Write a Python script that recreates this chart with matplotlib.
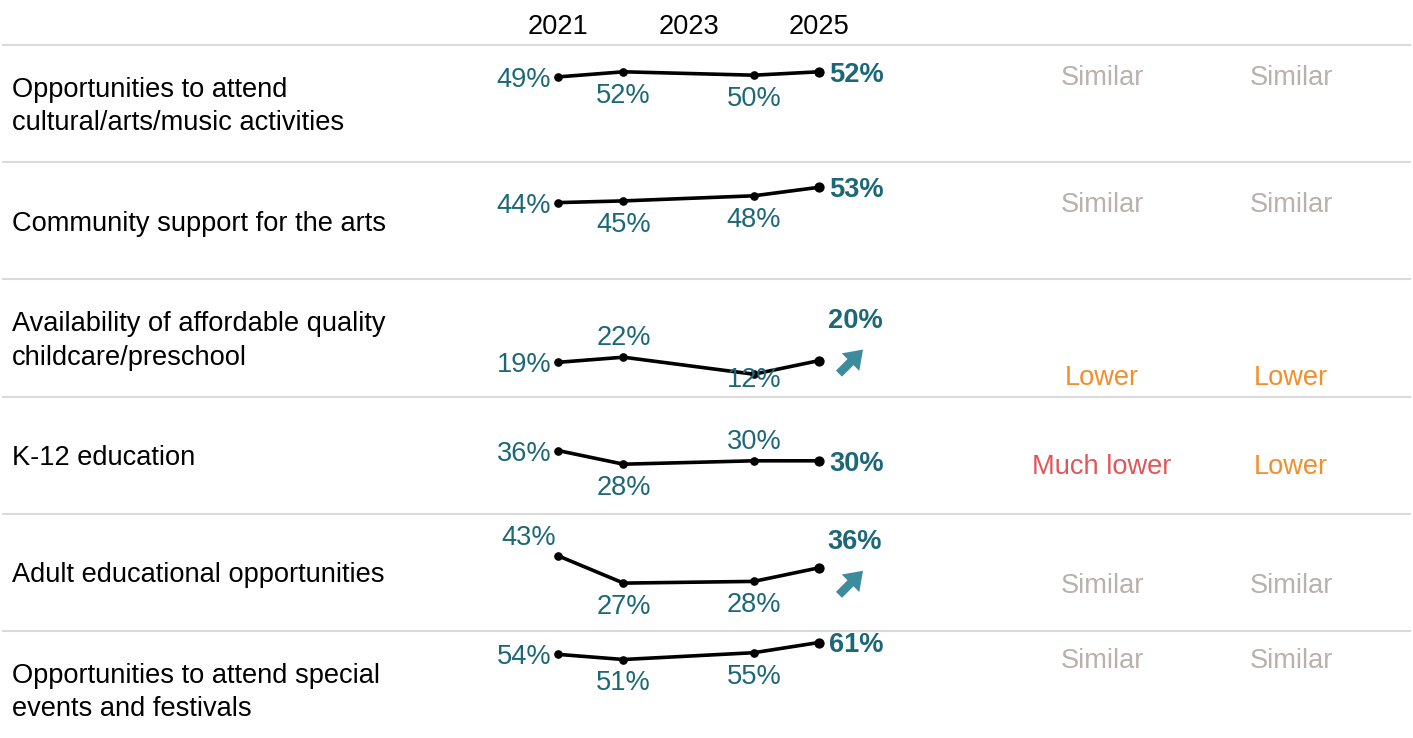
import matplotlib.pyplot as plt
from matplotlib.patches import FancyArrowPatch
from matplotlib.transforms import blended_transform_factory

plt.rcParams['font.family'] = ['Liberation Sans', 'DejaVu Sans']

# ---- data ----
categories = [
    'Opportunities to attend\ncultural/arts/music activities',
    'Community support for the arts',
    'Availability of affordable quality\nchildcare/preschool',
    'K-12 education',
    'Adult educational opportunities',
    'Opportunities to attend special\nevents and festivals',
]
years = [2021, 2022, 2024, 2025]
year_ticks = [2021, 2023, 2025]

cultural_arts = [49, 52, 50, 52]
arts_support = [44, 45, 48, 53]
childcare = [19, 22, 12, 20]
k12 = [36, 28, 30, 30]
adult_education = [43, 27, 28, 36]
festivals = [54, 51, 55, 61]
series = [cultural_arts, arts_support, childcare, k12, adult_education, festivals]

compare_national = ['Similar', 'Similar', 'Lower', 'Much lower', 'Similar', 'Similar']
compare_peers = ['Similar', 'Similar', 'Lower', 'Lower', 'Similar', 'Similar']
trend_up = [False, False, True, False, True, False]

# ---- layout (pixels, y measured from the top) ----
W, H, DPI = 1413, 738, 100
ROW_TOP = 45
ROW_H = 117.2
SPARK_X0, SPARK_X1 = 558.3, 819
PX_PER_PCT = 1.7
FS = 19.6

TEAL = '#1d6878'
ARROW = '#3d8c9e'
GRID = '#dadada'
COMPARE_COLORS = {'Similar': '#bab0ac', 'Lower': '#f28e2b', 'Much lower': '#e15759'}
COL1_X, COL2_X = 1102, 1291
compare_y = [75, 202, 375, 464, 583, 658]

# where each value label sits relative to its point: (dx, dy, ha)
OFFSETS = {
    'left': (-7, 0, 'right'),
    'below': (0, 21, 'center'),
    'above': (0, -22, 'center'),
    'low': (0, 3, 'center'),
    'above_left': (-2, -21, 'right'),
    'right': (10, 0, 'left'),
}
placements = [
    ['left', 'below', 'below', 'right'],
    ['left', 'below', 'below', 'right'],
    ['left', 'above', 'low', 'up'],
    ['left', 'below', 'above', 'right'],
    ['above_left', 'below', 'below', 'up'],
    ['left', 'below', 'below', 'right'],
]
arrow_dy = {2: 1, 4: 15}

fig = plt.figure(figsize=(W / DPI, H / DPI), dpi=DPI)
base = fig.add_axes([0, 0, 1, 1])
base.set_xlim(0, W)
base.set_ylim(H, 0)
base.axis('off')

spark_axes = []
for i, (label, vals) in enumerate(zip(categories, series)):
    top = ROW_TOP + ROW_H * i
    base.plot([3, 1410], [top, top], color=GRID, lw=1.5, zorder=0)
    base.text(12, top + ROW_H / 2 + 3, label, ha='left', va='center',
              fontsize=FS, color='black', linespacing=1.36)

    # sparkline axes: 0% sits at the bottom of the row
    bottom_px = top + ROW_H - 2
    ax = fig.add_axes([SPARK_X0 / W, (H - bottom_px) / H,
                       (SPARK_X1 - SPARK_X0) / W, ROW_H / H])
    ax.set_xlim(years[0], years[-1])
    ax.set_ylim(0, ROW_H / PX_PER_PCT)
    ax.axis('off')
    spark_axes.append(ax)

    ax.plot(years, vals, color='black', lw=2.6, clip_on=False,
            solid_joinstyle='round', solid_capstyle='round')
    ax.plot(years[:-1], vals[:-1], 'o', color='black', ms=5.2, clip_on=False)
    ax.plot(years[-1], vals[-1], 'o', color='black', ms=6.4, clip_on=False)

    for j, (yr, v) in enumerate(zip(years, vals)):
        where = placements[i][j]
        bold = j == len(years) - 1
        if where == 'up':
            # arrow beside the last point, value stacked above it
            px, py = base.transData.inverted().transform(
                ax.transData.transform((yr, v)))
            cx, cy = px + 32, py + arrow_dy[i]
            arr = FancyArrowPatch((cx - 14, cy + 14), (cx + 14, cy - 14),
                                  arrowstyle='simple,head_length=0.75,head_width=1.05,tail_width=0.36',
                                  mutation_scale=17, color=ARROW, lw=0, zorder=3)
            base.add_patch(arr)
            base.text(px + 36, cy - 44, f'{v}%', ha='center', va='center_baseline',
                      fontsize=FS, color=TEAL, fontweight='bold')
            continue
        dx, dy, ha = OFFSETS[where]
        ax.annotate(f'{v}%', (yr, v), xytext=(dx, -dy), textcoords='offset pixels',
                    ha=ha, va='center_baseline', fontsize=FS, color=TEAL,
                    fontweight='bold' if bold else 'normal', annotation_clip=False)

    for x, txt in ((COL1_X, compare_national[i]), (COL2_X, compare_peers[i])):
        base.text(x, compare_y[i], txt, ha='center', va='center_baseline',
                  fontsize=FS, color=COMPARE_COLORS[txt])

# year header shares the sparkline x scale
hdr = blended_transform_factory(spark_axes[0].transData, base.transData)
for yr in year_ticks:
    base.text(yr, 24.5, str(yr), transform=hdr, ha='center', va='center_baseline',
              fontsize=FS, color='black')

fig.savefig('out.png', dpi=DPI)
